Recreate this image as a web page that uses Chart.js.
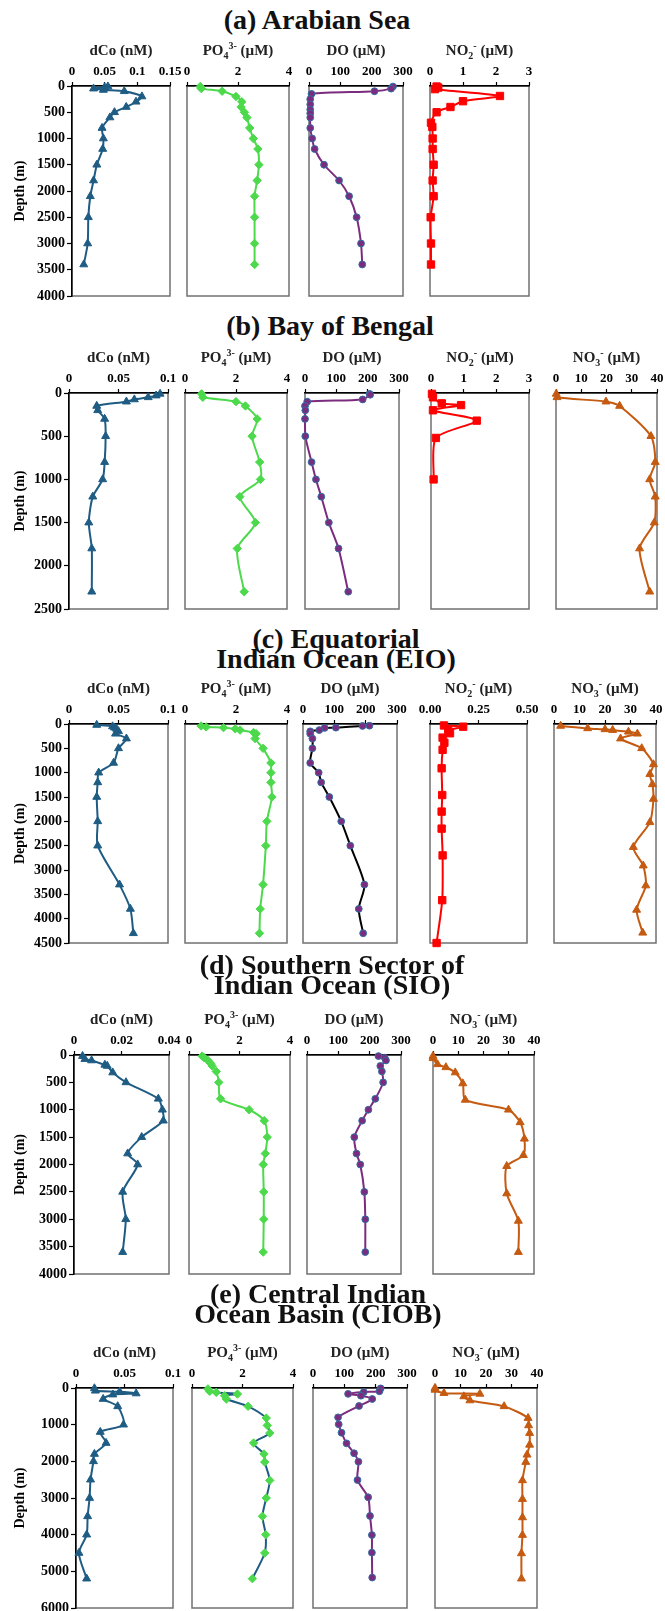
<!DOCTYPE html>
<html>
<head>
<meta charset="utf-8">
<script src="https://cdn.jsdelivr.net/npm/chart.js@4.4.0/dist/chart.umd.min.js"></script>
<style>
    body { margin: 0; background: #fff; width: 665px; height: 1611px; position: relative; overflow: hidden; font-family: "Liberation Serif", serif; }
    .ttl { position: absolute; width: 460px; font-weight: bold; font-size: 28px; line-height: 20px; text-align: center; color: #111; white-space: nowrap; }
    .lab { position: absolute; width: 140px; font-weight: bold; font-size: 15px; line-height: 20px; text-align: center; color: #222; white-space: nowrap; }
    .lab sub, .lab sup { font-size: 10px; line-height: 0; }
    canvas { position: absolute; }
</style>
</head>
<body>
<script>
// ---------- depth ticks ----------
const aDepthTicks = [0, 500, 1000, 1500, 2000, 2500, 3000, 3500, 4000];
const bDepthTicks = [0, 500, 1000, 1500, 2000, 2500];
const cDepthTicks = [0, 500, 1000, 1500, 2000, 2500, 3000, 3500, 4000, 4500];
const dDepthTicks = [0, 500, 1000, 1500, 2000, 2500, 3000, 3500, 4000];
const eDepthTicks = [0, 1000, 2000, 3000, 4000, 5000, 6000];

// ---------- value ticks ----------
const coTicksA = [0, 0.05, 0.1, 0.15];
const coTicks = [0, 0.05, 0.1];
const coTicksD = [0, 0.02, 0.04];
const po4Ticks = [0, 2, 4];
const doTicks = [0, 100, 200, 300];
const no2Ticks = [0, 1, 2, 3];
const no2TicksC = [0, 0.25, 0.5];
const no3Ticks = [0, 10, 20, 30, 40];

// ---------- (a) Arabian Sea ----------
const aCoDepth = [10, 25, 50, 75, 100, 200, 300, 400, 500, 600, 800, 1000, 1200, 1500, 1800, 2100, 2500, 3000, 3400];
const aCo = [0.055, 0.050, 0.033, 0.048, 0.080, 0.107, 0.098, 0.083, 0.065, 0.058, 0.046, 0.048, 0.047, 0.038, 0.033, 0.028, 0.025, 0.024, 0.018];
const aPo4Depth = [10, 50, 100, 200, 300, 400, 500, 600, 800, 1000, 1200, 1500, 1800, 2100, 2500, 3000, 3400];
const aPo4 = [0.52, 0.56, 1.38, 1.92, 2.15, 2.12, 2.25, 2.35, 2.46, 2.6, 2.78, 2.82, 2.75, 2.65, 2.65, 2.65, 2.65];
const aDoDepth = [10, 50, 100, 150, 250, 350, 450, 520, 600, 800, 1000, 1200, 1500, 1800, 2100, 2500, 3000, 3400];
const aDo = [268, 262, 209, 8, 4, 4, 4, 4, 4, 4, 10, 18, 48, 96, 128, 152, 166, 170];
const aNo2Depth = [10, 30, 60, 190, 290, 400, 500, 700, 780, 1000, 1200, 1500, 1800, 2100, 2500, 3000, 3400];
const aNo2 = [0.2, 0.25, 0.15, 2.12, 1.0, 0.62, 0.2, 0.03, 0.07, 0.08, 0.08, 0.11, 0.08, 0.11, 0.02, 0.03, 0.03];

// ---------- (b) Bay of Bengal ----------
const bCoDepth = [10, 30, 50, 75, 100, 150, 200, 300, 500, 800, 1000, 1200, 1500, 1800, 2300];
const bCo = [0.092, 0.088, 0.080, 0.066, 0.058, 0.028, 0.029, 0.036, 0.037, 0.036, 0.034, 0.024, 0.020, 0.023, 0.023];
const bPo4Depth = [10, 50, 100, 150, 300, 500, 800, 1000, 1200, 1500, 1800, 2300];
const bPo4 = [0.65, 0.7, 2.0, 2.37, 2.83, 2.63, 2.93, 2.96, 2.15, 2.76, 2.05, 2.32];
const bDoDepth = [10, 20, 75, 100, 150, 200, 300, 500, 800, 1000, 1200, 1500, 1800, 2300];
const bDo = [206, 208, 184, 7, 0, 1, 0, 1, 21, 35, 52, 76, 107, 138];
const bNo2Depth = [10, 50, 120, 140, 200, 320, 520, 1000];
const bNo2 = [0.03, 0.06, 0.33, 0.92, 0.06, 1.4, 0.15, 0.08];
const bNo3Depth = [10, 50, 100, 150, 500, 800, 1000, 1200, 1500, 1800, 2300];
const bNo3 = [0.1, 0.4, 19.8, 25.2, 37.6, 39.3, 37.1, 39.3, 38.9, 33.1, 37.1];

// ---------- (c) Equatorial Indian Ocean ----------
const cCoDepth = [20, 50, 75, 100, 150, 200, 300, 500, 800, 1000, 1200, 1500, 2000, 2500, 3300, 3800, 4300];
const cCo = [0.028, 0.044, 0.046, 0.048, 0.050, 0.047, 0.058, 0.050, 0.045, 0.030, 0.029, 0.028, 0.029, 0.029, 0.051, 0.062, 0.065];
const cPo4Depth = [40, 60, 75, 100, 125, 175, 200, 300, 500, 800, 1000, 1200, 1500, 2000, 2500, 3300, 3800, 4300];
const cPo4 = [0.63, 0.83, 1.51, 1.97, 2.16, 2.69, 2.79, 2.75, 3.06, 3.37, 3.37, 3.37, 3.41, 3.21, 3.17, 3.06, 2.95, 2.92];
const cDoDepth = [35, 40, 75, 80, 125, 150, 200, 300, 500, 800, 1000, 1200, 1500, 2000, 2500, 3300, 3800, 4300];
const cDo = [212, 190, 105, 69, 52, 23, 23, 30, 30, 23, 50, 58, 84, 122, 151, 196, 178, 192];
const cNo2Depth = [30, 55, 125, 190, 280, 385, 530, 910, 1460, 1800, 2150, 2700, 3620, 4500];
const cNo2 = [0.072, 0.171, 0.094, 0.103, 0.065, 0.074, 0.065, 0.06, 0.063, 0.06, 0.06, 0.065, 0.063, 0.034];
const cNo3Depth = [40, 90, 110, 125, 160, 200, 300, 500, 830, 1030, 1240, 1540, 2020, 2530, 2910, 3320, 3820, 4290];
const cNo3 = [2.6, 13.2, 20, 23, 29.2, 32.7, 26.1, 34.4, 39, 37.6, 38.6, 39, 37.6, 31.1, 35, 36, 32.4, 34.8];

// ---------- (d) Southern Sector of Indian Ocean ----------
const dCoDepth = [20, 75, 100, 180, 200, 320, 500, 800, 1000, 1200, 1500, 1800, 2000, 2500, 3000, 3600];
const dCo = [0.0036, 0.0046, 0.0074, 0.013, 0.014, 0.0163, 0.0219, 0.0355, 0.0372, 0.0376, 0.0285, 0.0226, 0.0268, 0.0205, 0.0218, 0.0205];
const dPo4Depth = [20, 50, 100, 150, 200, 300, 500, 800, 1000, 1200, 1500, 1800, 2000, 2500, 3000, 3600];
const dPo4 = [0.52, 0.6, 0.75, 0.85, 0.92, 1.08, 1.18, 1.25, 2.38, 2.98, 3.1, 3.02, 2.94, 2.96, 2.96, 2.94];
const dDoDepth = [20, 50, 100, 200, 300, 500, 800, 1000, 1200, 1500, 1800, 2000, 2500, 3000, 3600];
const dDo = [228, 248, 252, 234, 239, 243, 218, 196, 176, 151, 158, 170, 183, 186, 186];
const dNo3Depth = [20, 60, 170, 225, 320, 520, 820, 1000, 1230, 1530, 1830, 2030, 2530, 3030, 3600];
const dNo3 = [0, 0, 1.8, 5.1, 8.8, 11.8, 12.8, 29.9, 34.5, 36.2, 35.8, 29.2, 29.2, 33.8, 33.8];

// ---------- (e) Central Indian Ocean Basin ----------
const eCoDepth = [10, 75, 100, 150, 180, 300, 500, 1000, 1200, 1500, 1800, 2000, 2500, 3000, 3500, 4000, 4500, 5200];
const eCo = [0.019, 0.020, 0.045, 0.062, 0.038, 0.028, 0.043, 0.049, 0.025, 0.031, 0.019, 0.018, 0.015, 0.014, 0.012, 0.011, 0.003, 0.011];
const ePo4Depth = [25, 90, 120, 165, 210, 300, 500, 820, 1020, 1230, 1500, 1800, 2020, 2520, 3000, 3500, 4000, 4500, 5200];
const ePo4 = [0.63, 0.7, 0.96, 1.8, 1.29, 1.36, 2.22, 2.94, 2.98, 3.08, 2.44, 2.85, 2.88, 3.08, 2.94, 2.79, 2.92, 2.88, 2.39];
const eDoDepth = [10, 90, 110, 160, 210, 300, 490, 800, 990, 1220, 1510, 1780, 2010, 2510, 2980, 3490, 4010, 4490, 5170];
const eDo = [216, 212, 162, 112, 153, 189, 147, 80, 82, 91, 107, 131, 145, 142, 176, 182, 188, 188, 189];
const eNo3Depth = [0, 50, 140, 160, 230, 340, 500, 820, 1020, 1230, 1550, 1820, 2020, 2520, 3030, 3530, 4010, 4510, 5200];
const eNo3 = [0, 0, 3.5, 17.6, 11.3, 13.7, 27.1, 36.5, 36.7, 37.1, 37.1, 36.1, 35.6, 34.3, 34.3, 34.3, 34.3, 33.9, 33.9];

// ---------- styles ----------
const styles = {
    co:  { line: "#1F5C84", fill: "#1F5C84", edge: "#1F5C84", pt: "triangle", r: 4.6, label: "dCo (nM)" },
    po4: { line: "#4CD94C", fill: "#4CD94C", edge: "#4CD94C", pt: "rectRot", r: 4.2, label: "PO<sub>4</sub><sup>3-</sup> (µM)" },
    do:  { line: "#7B2C7E", fill: "#7B2C7E", edge: "#2F6EA3", pt: "circle", r: 3.4, label: "DO (µM)" },
    no2: { line: "#FF0000", fill: "#FF0000", edge: "#FF0000", pt: "rect", r: 5.2, label: "NO<sub>2</sub><sup>-</sup> (µM)" },
    no3: { line: "#C55A11", fill: "#C55A11", edge: "#C55A11", pt: "triangle", r: 4.6, label: "NO<sub>3</sub><sup>-</sup> (µM)" }
};

/* =========================
   LAYOUT
========================= */
const panels = [
    {
        title: ["(a) Arabian Sea"], cx: 317, base: 29,
        top: 86, bottom: 296, depthMax: 4000, depthTicks: aDepthTicks,
        plots: [
            { v: "co",  left: 72,  right: 170, ticks: coTicksA, depth: aCoDepth, vals: aCo },
            { v: "po4", left: 187, right: 289, ticks: po4Ticks, depth: aPo4Depth, vals: aPo4 },
            { v: "do",  left: 309, right: 403, ticks: doTicks, depth: aDoDepth, vals: aDo },
            { v: "no2", left: 430, right: 529, ticks: no2Ticks, depth: aNo2Depth, vals: aNo2 }
        ]
    },
    {
        title: ["(b) Bay of Bengal"], cx: 330, base: 335,
        top: 393, bottom: 609, depthMax: 2500, depthTicks: bDepthTicks,
        plots: [
            { v: "co",  left: 69,  right: 168, ticks: coTicks, depth: bCoDepth, vals: bCo },
            { v: "po4", left: 185, right: 287, ticks: po4Ticks, depth: bPo4Depth, vals: bPo4 },
            { v: "do",  left: 305, right: 399, ticks: doTicks, depth: bDoDepth, vals: bDo },
            { v: "no2", left: 431, right: 529, ticks: no2Ticks, depth: bNo2Depth, vals: bNo2 },
            { v: "no3", left: 556, right: 657, ticks: no3Ticks, depth: bNo3Depth, vals: bNo3 }
        ]
    },
    {
        title: ["(c) Equatorial", "Indian Ocean (EIO)"], cx: 336, base: 648,
        top: 724, bottom: 943, depthMax: 4500, depthTicks: cDepthTicks,
        plots: [
            { v: "co",  left: 69,  right: 168, ticks: coTicks, depth: cCoDepth, vals: cCo },
            { v: "po4", left: 185, right: 287, ticks: po4Ticks, depth: cPo4Depth, vals: cPo4 },
            { v: "do",  left: 303, right: 397, ticks: doTicks, depth: cDoDepth, vals: cDo, line: "#000000" },
            { v: "no2", left: 430, right: 527, ticks: no2TicksC, dec: 2, depth: cNo2Depth, vals: cNo2 },
            { v: "no3", left: 554, right: 656, ticks: no3Ticks, depth: cNo3Depth, vals: cNo3 }
        ]
    },
    {
        title: ["(d) Southern Sector of", "Indian Ocean (SIO)"], cx: 332, base: 974,
        top: 1055, bottom: 1274, depthMax: 4000, depthTicks: dDepthTicks,
        plots: [
            { v: "co",  left: 74,  right: 169, ticks: coTicksD, depth: dCoDepth, vals: dCo },
            { v: "po4", left: 189, right: 290, ticks: po4Ticks, depth: dPo4Depth, vals: dPo4 },
            { v: "do",  left: 307, right: 401, ticks: doTicks, depth: dDoDepth, vals: dDo },
            { v: "no3", left: 433, right: 534, ticks: no3Ticks, depth: dNo3Depth, vals: dNo3 }
        ]
    },
    {
        title: ["(e) Central Indian", "Ocean Basin (CIOB)"], cx: 318, base: 1303,
        top: 1388, bottom: 1608, depthMax: 6000, depthTicks: eDepthTicks,
        plots: [
            { v: "co",  left: 76,  right: 173, ticks: coTicks, depth: eCoDepth, vals: eCo },
            { v: "po4", left: 192, right: 293, ticks: po4Ticks, depth: ePo4Depth, vals: ePo4, line: "#1F5C84" },
            { v: "do",  left: 313, right: 407, ticks: doTicks, depth: eDoDepth, vals: eDo },
            { v: "no3", left: 435, right: 537, ticks: no3Ticks, depth: eNo3Depth, vals: eNo3 }
        ]
    }
];

Chart.defaults.font.family = "'Liberation Serif', serif";
Chart.defaults.color = "#000";

// caixa cinza em volta da área do gráfico
const boxPlugin = {
    id: "box",
    beforeDraw(chart) {
        const { ctx, chartArea: a } = chart;
        ctx.save();
        ctx.strokeStyle = "#707070";
        ctx.lineWidth = 1.5;
        ctx.strokeRect(a.left, a.top, a.right - a.left, a.bottom - a.top);
        ctx.restore();
    }
};

function fmt(v, dec) {
    return dec != null ? v.toFixed(dec) : String(+v.toFixed(4));
}

function addText(cls, html, left, top) {
    const d = document.createElement("div");
    d.className = cls;
    d.innerHTML = html;
    d.style.left = left + "px";
    d.style.top = top + "px";
    document.body.appendChild(d);
}

function drawProfile(p, s, i) {
    const first = i === 0;
    const st = styles[s.v];
    const LM = first ? s.left : 18, RM = 18, TM = 30, BM = 12;
    const cw = (s.right - s.left) + LM + RM;
    const ch = (p.bottom - p.top) + TM + BM;

    const cv = document.createElement("canvas");
    cv.width = cw;
    cv.height = ch;
    cv.style.left = (s.left - LM) + "px";
    cv.style.top = (p.top - TM) + "px";
    cv.style.width = cw + "px";
    cv.style.height = ch + "px";
    document.body.appendChild(cv);

    addText("lab", st.label, (s.left + s.right) / 2 - 70, p.top - 46);

    new Chart(cv, {
        type: "scatter",
        data: {
            datasets: [{
                data: s.depth.map((d, k) => ({ x: s.vals[k], y: d })),
                showLine: true,
                borderColor: s.line || st.line,
                borderWidth: 2,
                tension: 0.25,
                pointStyle: st.pt,
                pointRadius: st.r,
                pointBackgroundColor: st.fill,
                pointBorderColor: st.edge,
                pointBorderWidth: 1,
                clip: false
            }]
        },
        options: {
            responsive: false,
            animation: false,
            devicePixelRatio: 1,
            events: [],
            layout: { padding: { left: first ? 0 : LM, right: RM, top: 4, bottom: BM } },
            plugins: { legend: { display: false }, tooltip: { enabled: false } },
            scales: {
                x: {
                    type: "linear",
                    position: "top",
                    min: s.ticks[0],
                    max: s.ticks[s.ticks.length - 1],
                    afterBuildTicks: sc => { sc.ticks = s.ticks.map(v => ({ value: v })); },
                    afterFit: sc => { sc.height = TM - 4; },
                    grid: { drawOnChartArea: false, drawTicks: true, tickLength: 4, tickColor: "#000", tickWidth: 1.2 },
                    border: { display: true, color: "#000", width: 1.5 },
                    ticks: { padding: 3, font: { size: 13, weight: "bold" }, maxRotation: 0, autoSkip: false, callback: v => fmt(v, s.dec) }
                },
                y: {
                    type: "linear",
                    display: first,
                    reverse: true,
                    min: 0,
                    max: p.depthMax,
                    afterBuildTicks: sc => { sc.ticks = p.depthTicks.map(v => ({ value: v })); },
                    afterFit: sc => { sc.width = first ? s.left : 0; },
                    title: {
                        display: true,
                        text: "Depth (m)",
                        font: { size: 14, weight: "bold" },
                        padding: { top: 12, bottom: 0 }
                    },
                    grid: { drawOnChartArea: false, drawTicks: true, tickLength: 5, tickColor: "#000", tickWidth: 1.2 },
                    border: { display: true, color: "#000", width: 1.5 },
                    ticks: { padding: 2, font: { size: 14, weight: "bold" }, autoSkip: false, callback: v => String(v) }
                }
            }
        },
        plugins: [boxPlugin]
    });
}

panels.forEach(p => {
    addText("ttl", p.title.join("<br>"), p.cx - 230, p.base - 19.5);
    p.plots.forEach((s, i) => drawProfile(p, s, i));
});
</script>
</body>
</html>
